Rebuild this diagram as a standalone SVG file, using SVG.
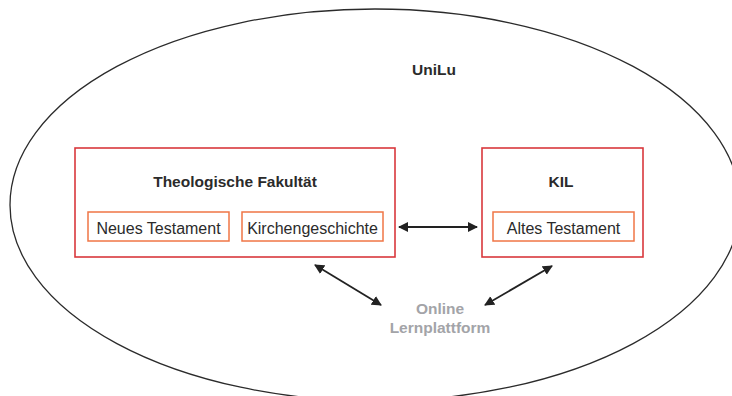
<svg xmlns="http://www.w3.org/2000/svg" width="732" height="396" viewBox="0 0 732 396">
<defs>
<style>
.bg{fill:#ffffff}
.uni{fill:none;stroke:#2b2b2b;stroke-width:1.3}
.outer{fill:#ffffff;stroke:#d9383c;stroke-width:1.6}
.inner{fill:#ffffff;stroke:#f07646;stroke-width:1.5}
.t{font-family:"Liberation Sans",Arial,sans-serif;fill:#2b2b2b;text-anchor:middle}
.b{font-weight:bold;font-size:15.5px}
.r{font-size:16px}
.g{fill:#a3a4a8}
.con{stroke:#222222;stroke-width:1.8;fill:none;marker-start:url(#ah);marker-end:url(#ah)}
</style>
<marker id="ah" viewBox="0 0 10 10" refX="9" refY="5" markerWidth="10" markerHeight="11" markerUnits="userSpaceOnUse" orient="auto-start-reverse">
<path d="M0,0 L10,5 L0,10 z" fill="#222222"/>
</marker>
</defs>
<rect class="bg" x="0" y="0" width="732" height="396"/>
<g id="unilu">
<ellipse class="uni" cx="375" cy="205" rx="365" ry="196"/>
<text class="t b" x="434" y="75">UniLu</text>
</g>
<g id="theologische-fakultaet">
<rect class="outer" x="75" y="148" width="320" height="109"/>
<text class="t b" x="235" y="187">Theologische Fakultät</text>
</g>
<g id="neues-testament">
<rect class="inner" x="88" y="212" width="141" height="29"/>
<text class="t r" x="158.5" y="234">Neues Testament</text>
</g>
<g id="kirchengeschichte">
<rect class="inner" x="242" y="212" width="141" height="29"/>
<text class="t r" x="312.5" y="234">Kirchengeschichte</text>
</g>
<g id="kil">
<rect class="outer" x="482" y="148" width="161" height="109"/>
<text class="t b" x="561" y="187">KIL</text>
</g>
<g id="altes-testament">
<rect class="inner" x="493" y="212" width="141" height="29"/>
<text class="t r" x="563.5" y="234">Altes Testament</text>
</g>
<g id="online-lernplattform">
<text class="t b g" x="440" y="314">Online</text>
<text class="t b g" x="440" y="333">Lernplattform</text>
</g>
<g id="connectors">
<line class="con" x1="399" y1="227" x2="477" y2="227"/>
<line class="con" x1="315" y1="265" x2="381" y2="305"/>
<line class="con" x1="485" y1="305" x2="552" y2="266"/>
</g>
</svg>
